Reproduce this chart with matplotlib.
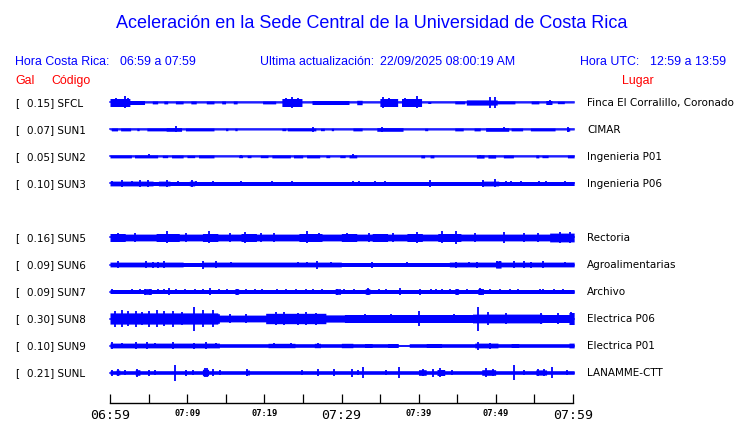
import numpy as np
import matplotlib.pyplot as plt

# Estaciones (de arriba hacia abajo), aceleracion maxima en gal y lugar
codigos = ['SFCL', 'SUN1', 'SUN2', 'SUN3', 'SUN5', 'SUN6', 'SUN7', 'SUN8', 'SUN9', 'SUNL']
gal_max = [0.15, 0.07, 0.05, 0.10, 0.16, 0.09, 0.09, 0.30, 0.10, 0.21]
lugares = ['Finca El Corralillo, Coronado', 'CIMAR', 'Ingenieria P01', 'Ingenieria P06',
           'Rectoria', 'Agroalimentarias', 'Archivo', 'Electrica P06', 'Electrica P01',
           'LANAMME-CTT']
filas = [0, 1, 2, 3, 5, 6, 7, 8, 9, 10]   # la fila 4 queda vacia

# Etiquetas de tiempo (minutos desde 06:59)
minutos_ticks = [0, 10, 20, 30, 40, 50, 60]
etiquetas_ticks = ['06:59', '07:09', '07:19', '07:29', '07:39', '07:49', '07:59']

# Envolvente de cada registro: nivel de fondo (gal), tramos (inicio, fin, gal) y picos (minuto, gal)
fondo = [0.012, 0.012, 0.012, 0.05, 0.085, 0.06, 0.05, 0.12, 0.045, 0.045]

tramos_SFCL = [(0, 2.6, 0.10), (2.6, 4.5, 0.05), (5.5, 6.2, 0.035), (7, 7.5, 0.035),
               (8.5, 9.5, 0.035), (10.5, 11.2, 0.035), (12.5, 13.5, 0.035), (14.5, 15, 0.035),
               (16, 16.5, 0.035), (19.8, 21.5, 0.035), (22.3, 24.9, 0.10), (26.2, 31, 0.05),
               (32, 32.7, 0.055), (35, 37.3, 0.10), (37.8, 40.4, 0.10), (41.2, 41.6, 0.025),
               (44.7, 46, 0.035), (46.2, 50.2, 0.065), (50.2, 52.5, 0.035), (54.6, 55.6, 0.035),
               (56.5, 57.3, 0.05), (58, 58.9, 0.03)]
picos_SFCL = [(0.8, 0.12), (1.9, 0.15), (2.3, 0.11), (22.8, 0.12), (23.6, 0.14), (24.4, 0.12),
              (35.4, 0.13), (36.2, 0.11), (38.2, 0.12), (39.8, 0.15), (49.3, 0.14),
              (49.9, 0.13), (57, 0.06)]

tramos_SUN1 = [(0.2, 1, 0.035), (1.4, 2.7, 0.035), (3.5, 3.8, 0.03), (4.8, 7.3, 0.035),
               (7.3, 9.3, 0.045), (9.8, 13.5, 0.035), (15, 15.3, 0.03), (16.2, 16.5, 0.03),
               (22.3, 22.8, 0.03), (23, 26.7, 0.035), (27.3, 27.8, 0.03), (28.7, 29, 0.03),
               (31.5, 32.7, 0.035), (34.6, 38, 0.045), (40.8, 41.2, 0.03), (44.7, 45.8, 0.035),
               (47.2, 48, 0.035), (48.7, 51.7, 0.045), (52, 53.5, 0.035), (54.5, 57.7, 0.035),
               (59.2, 59.6, 0.04)]
picos_SUN1 = [(8.5, 0.075), (26.3, 0.07), (35.2, 0.07), (51, 0.05), (59.4, 0.06)]

tramos_SUN2 = [(0, 2.8, 0.035), (3.2, 6.2, 0.035), (6.8, 7.5, 0.03), (8, 9.5, 0.035),
               (10, 11, 0.03), (11.5, 13.5, 0.035), (16.7, 17.2, 0.03), (17.8, 18.3, 0.03),
               (19.5, 20.5, 0.03), (21, 23.4, 0.035), (23.8, 25, 0.035), (25.5, 27.2, 0.035),
               (28, 28.5, 0.03), (29.8, 30.5, 0.03), (31, 32, 0.035), (40.3, 40.8, 0.035),
               (41.5, 42, 0.035), (47.5, 48.5, 0.04), (49, 50, 0.04), (51, 52.3, 0.035),
               (55.2, 55.6, 0.035), (56, 56.8, 0.03), (59.3, 60.2, 0.035)]
picos_SUN2 = [(5, 0.05), (17, 0.04), (31.5, 0.05), (47.9, 0.045)]

tramos_SUN3 = [(0, 5.6, 0.06), (6.3, 7.8, 0.06), (10.3, 11, 0.06), (48.2, 50.4, 0.06)]
picos_SUN3 = [(0.3, 0.07), (1.6, 0.08), (2.8, 0.065), (3.9, 0.08), (4.9, 0.09), (7.4, 0.08),
              (8.8, 0.065), (10.6, 0.09), (11.2, 0.07), (13.3, 0.065), (17, 0.065),
              (21, 0.065), (23.6, 0.065), (31.5, 0.065), (32.3, 0.065), (34.3, 0.065),
              (35.6, 0.065), (41.5, 0.075), (48.3, 0.085), (49.9, 0.10), (51.3, 0.065),
              (52, 0.065), (53.2, 0.065), (55.6, 0.07), (56.5, 0.065), (58.9, 0.07)]

tramos_SUN5 = [(0, 2, 0.1), (6, 9, 0.1), (12, 14, 0.1), (17, 19, 0.1), (24.5, 27.5, 0.1),
               (30, 32, 0.1), (34, 36, 0.1), (38.5, 40.5, 0.1), (42.5, 45.5, 0.1),
               (57, 60.2, 0.11)]
picos_SUN5 = [(1, 0.12), (3.2, 0.11), (7.4, 0.15), (9.9, 0.11), (12.8, 0.15), (15.6, 0.12),
              (17.5, 0.14), (19.6, 0.12), (21.3, 0.11), (25.5, 0.15), (27.1, 0.12),
              (30.7, 0.12), (33.6, 0.12), (36.7, 0.12), (39.8, 0.13), (43, 0.15),
              (44.8, 0.16), (47.3, 0.12), (51, 0.14), (53.6, 0.12), (55.4, 0.12),
              (58.3, 0.14), (59.6, 0.14)]

tramos_SUN6 = [(9.5, 12, 0.05), (30, 44, 0.05), (50, 50.7, 0.09)]
picos_SUN6 = [(1, 0.08), (4.7, 0.08), (5.6, 0.075), (6.2, 0.075), (7, 0.085), (12.1, 0.1),
              (13.7, 0.08), (15.7, 0.07), (24.3, 0.07), (25.5, 0.07), (26.8, 0.1),
              (28.7, 0.07), (34, 0.075), (38.5, 0.07), (44.8, 0.075), (46.5, 0.07),
              (47.5, 0.075), (50.1, 0.09), (50.6, 0.085), (52.4, 0.08), (53.6, 0.085),
              (54.5, 0.075), (56.1, 0.08), (58.9, 0.07)]

tramos_SUN7 = [(4.5, 5.4, 0.07), (16.2, 16.7, 0.07), (29.2, 29.9, 0.07), (33.1, 33.7, 0.07),
               (44.7, 45.2, 0.07), (47.7, 48.2, 0.075)]
picos_SUN7 = [(0.3, 0.065), (2.8, 0.065), (3.9, 0.065), (4.6, 0.075), (5.2, 0.075),
              (6.2, 0.065), (7, 0.065), (7.7, 0.085), (8.6, 0.065), (9.7, 0.065), (11, 0.065),
              (12.1, 0.065), (13, 0.09), (14.1, 0.065), (15.1, 0.065), (16.4, 0.075),
              (17.6, 0.065), (18.8, 0.065), (19.7, 0.065), (21.7, 0.065), (22.8, 0.065),
              (24.1, 0.065), (25.4, 0.065), (26.3, 0.065), (27.5, 0.065), (29.4, 0.075),
              (30.3, 0.065), (31.6, 0.065), (33.4, 0.08), (34.9, 0.065), (35.8, 0.065),
              (37.6, 0.085), (40.2, 0.075), (41.6, 0.07), (42.3, 0.07), (43, 0.07),
              (44.1, 0.065), (45, 0.075), (46.3, 0.065), (47.9, 0.09), (48.3, 0.075),
              (49.2, 0.065), (50.5, 0.065), (51.8, 0.065), (52.9, 0.065), (55.7, 0.065),
              (56.1, 0.065), (57.6, 0.065), (58.7, 0.065)]

tramos_SUN8 = [(0, 14, 0.14), (14.2, 20.2, 0.085), (20.2, 28, 0.13), (28, 30.4, 0.09),
               (30.4, 38.4, 0.1), (38.4, 47, 0.1), (47, 56, 0.11), (56, 59.5, 0.1),
               (59.5, 60.2, 0.15)]
picos_SUN8 = [(0.6, 0.2), (1.5, 0.22), (2.3, 0.18), (3.4, 0.2), (4.2, 0.17), (5, 0.2),
              (6.1, 0.22), (7, 0.18), (8.2, 0.2), (9.3, 0.17), (10.9, 0.3), (12.1, 0.22),
              (13.3, 0.22), (15.5, 0.11), (17.6, 0.11), (21.5, 0.17), (22.6, 0.16),
              (24.3, 0.15), (25.4, 0.16), (26.7, 0.15), (33.1, 0.12), (36.4, 0.12),
              (40.1, 0.18), (44.6, 0.12), (47.7, 0.3), (49, 0.16), (51.3, 0.14),
              (55.8, 0.14), (58, 0.13), (59.8, 0.17)]

tramos_SUN9 = [(0, 14.2, 0.06), (20.5, 24, 0.055), (26.5, 27.3, 0.055), (30, 31.5, 0.055),
               (33, 34, 0.05), (36, 37.3, 0.05), (37.4, 38.8, 0.015), (41, 43, 0.05),
               (47.3, 50.3, 0.06), (52, 53, 0.05), (59.5, 60.2, 0.06)]
picos_SUN9 = [(0.3, 0.08), (1.5, 0.07), (3.4, 0.08), (4.8, 0.08), (5.8, 0.07), (8.2, 0.09),
              (10.9, 0.075), (12.5, 0.08), (13.7, 0.07), (21.3, 0.065), (23.5, 0.065),
              (27, 0.065), (47.7, 0.1), (49.2, 0.075)]

tramos_SUNL = [(0.8, 1.3, 0.06), (3.3, 3.9, 0.07), (12, 12.8, 0.08), (17.6, 18.1, 0.06),
               (40, 41, 0.07), (42.4, 43.4, 0.075), (48.2, 50, 0.07), (55.2, 56.6, 0.065)]
picos_SUNL = [(0.2, 0.075), (1, 0.08), (2, 0.07), (3.5, 0.1), (5, 0.075), (5.8, 0.07),
              (8.4, 0.2), (9.9, 0.075), (10.8, 0.07), (12.3, 0.11), (12.6, 0.12),
              (13.3, 0.08), (14.2, 0.07), (17.8, 0.08), (24.9, 0.07), (26.9, 0.09),
              (29, 0.09), (31.4, 0.1), (32.2, 0.07), (32.8, 0.14), (35.8, 0.07),
              (37.5, 0.13), (40.5, 0.09), (41.9, 0.1), (42.8, 0.11), (44.3, 0.07),
              (48.7, 0.11), (49.6, 0.085), (52.4, 0.19), (53.7, 0.07), (55.5, 0.085),
              (56.2, 0.085), (57.3, 0.14), (59.2, 0.07)]

tramos = [tramos_SFCL, tramos_SUN1, tramos_SUN2, tramos_SUN3, tramos_SUN5,
          tramos_SUN6, tramos_SUN7, tramos_SUN8, tramos_SUN9, tramos_SUNL]
picos = [picos_SFCL, picos_SUN1, picos_SUN2, picos_SUN3, picos_SUN5,
         picos_SUN6, picos_SUN7, picos_SUN8, picos_SUN9, picos_SUNL]

AZUL = '#0000ff'
W, H = 740, 423
SEP = 0.675   # separacion entre filas, en gal


def fx(px):
    return px / W


def fy(py):
    return 1 - py / H


fig = plt.figure(figsize=(W / 100, H / 100), dpi=100)
fig.patch.set_facecolor('white')

ax = fig.add_axes([fx(110), fy(403), fx(573) - fx(110), fy(88) - fy(403)])
ax.set_xlim(0, 60)
ax.set_ylim(-(403 - 102.5) / 40, 14.5 / 40)

t = np.arange(0, 60.2, 0.05)
for i, cod in enumerate(codigos):
    y0 = -filas[i] * SEP
    env = np.full_like(t, fondo[i])
    for a, b, v in tramos[i]:
        env[(t >= a) & (t < b)] = v
    ax.fill_between(t, y0 - env, y0 + env, step='mid', color=AZUL, lw=0, clip_on=False)
    ax.plot([t[0], t[-1]], [y0, y0], color=AZUL, lw=1.1, clip_on=False)
    tp = [p[0] for p in picos[i]]
    ap = [p[1] for p in picos[i]]
    ax.vlines(tp, [y0 - a for a in ap], [y0 + a for a in ap], color=AZUL, lw=1.3, clip_on=False)

    ypx = 103 + 27 * filas[i]
    fig.text(fx(15), fy(ypx), '[', fontsize=7.5, family='DejaVu Sans', va='center')
    fig.text(fx(27), fy(ypx), f'{gal_max[i]:.2f}] {cod}', fontsize=7.5,
             family='DejaVu Sans', va='center')
    fig.text(fx(587), fy(ypx), lugares[i], fontsize=7.5, family='DejaVu Sans', va='center')

# eje de tiempo
for lado in ['left', 'right', 'top']:
    ax.spines[lado].set_visible(False)
ax.spines['bottom'].set_linewidth(1)
ax.set_yticks([])
ax.set_xticks(minutos_ticks, etiquetas_ticks)
ax.set_xticks([5, 15, 25, 35, 45, 55], minor=True)
ax.tick_params(axis='x', which='both', direction='in', length=6.5, width=0.9, pad=4)
for k, lab in enumerate(ax.get_xticklabels()):
    lab.set_fontfamily('DejaVu Sans Mono')
    if etiquetas_ticks[k] in ('06:59', '07:29', '07:59'):
        lab.set_fontsize(9.5)
    else:
        lab.set_fontsize(6.2)
        lab.set_fontweight('bold')

# textos de cabecera
fig.text(fx(372), fy(23), 'Aceleración en la Sede Central de la Universidad de Costa Rica',
         color=AZUL, fontsize=13, family='Liberation Sans', ha='center', va='center')
cab = dict(color=AZUL, fontsize=8.9, family='Liberation Sans', va='center')
fig.text(fx(15), fy(62), 'Hora Costa Rica:', **cab)
fig.text(fx(120), fy(62), '06:59 a 07:59', **cab)
fig.text(fx(260), fy(62), 'Ultima actualización:', **cab)
fig.text(fx(380), fy(62), '22/09/2025 08:00:19 AM', **cab)
fig.text(fx(580), fy(62), 'Hora UTC:', **cab)
fig.text(fx(650), fy(62), '12:59 a 13:59', **cab)
roj = dict(color='red', fontsize=8.9, family='Liberation Sans', va='center')
fig.text(fx(15), fy(81), 'Gal', **roj)
fig.text(fx(51), fy(81), 'Código', **roj)
fig.text(fx(622), fy(81), 'Lugar', **roj)

fig.savefig('out.png', dpi=100)
